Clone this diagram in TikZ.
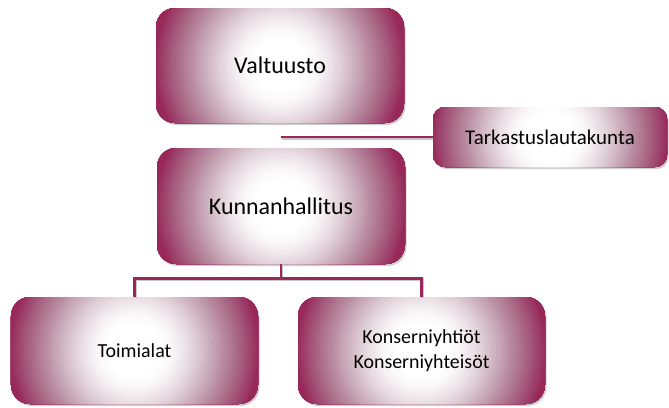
\documentclass[tikz,border=0pt]{standalone}
\usepackage{fontspec}
\setmainfont{Carlito}
\usetikzlibrary{calc,shadows}
\definecolor{vmaroon}{RGB}{152,40,90}
\tikzset{
  gbox/.style 2 args={rectangle, rounded corners=#1, inner sep=0pt, fill=vmaroon, text=black, align=center,
    drop shadow={shadow xshift=1.5bp, shadow yshift=-2bp, opacity=0.35, fill=black!55},
    path picture={
      \foreach \i in {0,...,63} {
        \pgfmathsetmacro\tr{1.25*(1-\i/64)}
        \pgfmathsetmacro\uu{min(1,max(0.001,(\tr-0.2)/0.82))}
        \pgfmathsetmacro\pp{100*max(0,1-\uu^1.8)}
        \pgfmathsetmacro\qq{100-0.44*\pp*(100-\pp)/100}
        \fill[white!\pp!vmaroon!\qq!black, rounded corners=0pt] (path picture bounding box.center) circle[radius={\tr*#2*1bp}];
      }
    }},
  conn/.style={draw=vmaroon, line width=2.6bp,
    preaction={draw=black!22, line width=2.6bp, transform canvas={xshift=1bp,yshift=-1.5bp}}},
  bigfont/.style={font=\fontsize{24}{29}\selectfont},
  smallfont/.style={font=\fontsize{20}{24.5}\selectfont},
}
\begin{document}
\begin{tikzpicture}[x=1bp,y=-1bp]
\useasboundingbox (0,0) rectangle (669,407);
\coordinate (trunk) at (281,137);
\coordinate (tkend) at (434,137);
\draw[conn] (trunk) -- (tkend);
\node[gbox={19bp}{124}, bigfont, minimum width=248bp, minimum height=115bp] (valt) at (280,65.5) {Valtuusto};
\node[gbox={12bp}{117}, font=\fontsize{21}{25}\selectfont, minimum width=234bp, minimum height=60bp] (tark) at (550,137) {Tarkastuslautakunta};
\node[gbox={19bp}{124}, bigfont, minimum width=248bp, minimum height=116bp] (kh) at (281,206) {Kunnanhallitus};
\node[gbox={19bp}{123.5}, smallfont, minimum width=247bp, minimum height=107bp] (toim) at (134.5,350.5) {Toimialat};
\node[gbox={19bp}{123.5}, smallfont, minimum width=247bp, minimum height=107bp] (kons) at (421.5,350.5) {Konserniyhtiöt\\Konserniyhteisöt};
\draw[conn] (kh.south) -- ++(0,14) coordinate (bus) -| (toim.north);
\draw[conn] (bus) -| (kons.north);
\end{tikzpicture}
\end{document}
